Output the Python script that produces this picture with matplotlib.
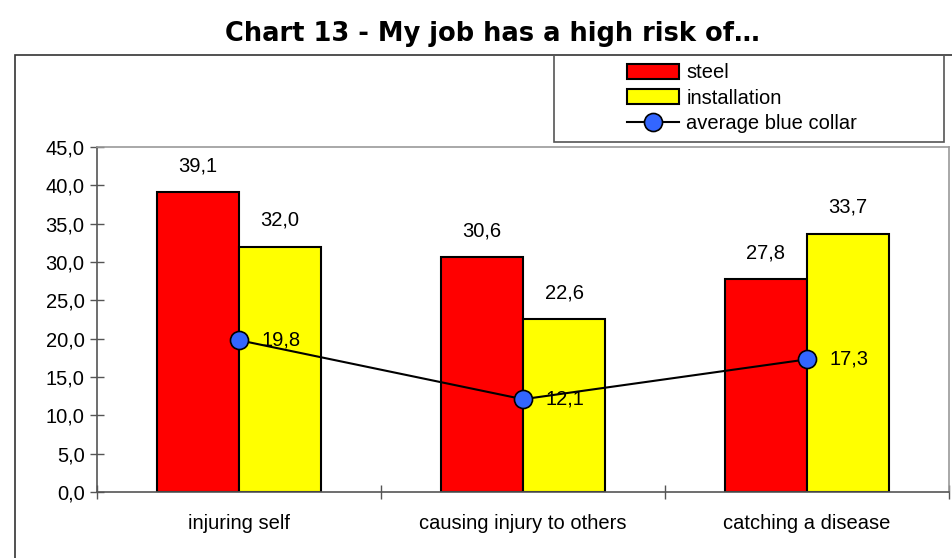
import matplotlib
matplotlib.use("Agg")
import matplotlib.pyplot as plt
from matplotlib.patches import Rectangle
import numpy as np

categories = ["injuring self", "causing injury to others", "catching a disease"]
steel = [39.1, 30.6, 27.8]
installation = [32.0, 22.6, 33.7]
average_blue_collar = [19.8, 12.1, 17.3]
yticks = [0, 5, 10, 15, 20, 25, 30, 35, 40, 45]

plt.rcParams['font.family'] = ['Liberation Sans', 'DejaVu Sans']

W, H = 952, 558
fig = plt.figure(figsize=(W/100, H/100), dpi=100)
ax = fig.add_axes([97/W, 1-492/H, (949-97)/W, (492-147)/H])

x = np.arange(len(categories))
bw = 0.29
fs = 14.5

ax.bar(x - bw/2, steel, bw, color='#FF0000', edgecolor='black', linewidth=1.5, label='steel', zorder=2)
ax.bar(x + bw/2, installation, bw, color='#FFFF00', edgecolor='black', linewidth=1.5, label='installation', zorder=2)
ax.plot(x, average_blue_collar, color='black', linewidth=1.5, marker='o', markersize=13,
        markerfacecolor='#3366FF', markeredgecolor='black', markeredgewidth=1.2,
        label='average blue collar', zorder=3)

def fmt(v):
    return f"{v:.1f}".replace('.', ',')

for i in range(len(categories)):
    ax.annotate(fmt(steel[i]), (x[i]-bw/2, steel[i]), xytext=(0, 12), textcoords='offset points',
                ha='center', va='bottom', fontsize=fs)
    ax.annotate(fmt(installation[i]), (x[i]+bw/2, installation[i]), xytext=(0, 12), textcoords='offset points',
                ha='center', va='bottom', fontsize=fs)
    ax.annotate(fmt(average_blue_collar[i]), (x[i], average_blue_collar[i]), xytext=(16, 0),
                textcoords='offset points', ha='left', va='center', fontsize=fs, zorder=4)

ax.set_xlim(-0.5, len(categories)-0.5)
ax.set_ylim(0, 45)
ax.set_yticks(yticks)
ax.set_yticklabels([fmt(v) for v in yticks], fontsize=fs)
ax.set_xticks(np.arange(len(categories)+1) - 0.5)
ax.set_xticklabels([])
ax.set_xticks(x, minor=True)
ax.set_xticklabels(categories, minor=True, fontsize=fs)
ax.tick_params(axis='x', which='minor', length=0, pad=16)
ax.tick_params(axis='x', which='major', direction='inout', length=10, width=1, color='#555555')
ax.tick_params(axis='y', direction='inout', length=10, width=1, color='#555555', pad=4)

for s in ['left', 'bottom']:
    ax.spines[s].set_color('#555555')
    ax.spines[s].set_linewidth(1.2)
for s in ['top', 'right']:
    ax.spines[s].set_color('#999999')
    ax.spines[s].set_linewidth(1.2)

# outer chart frame
fig.patches.append(Rectangle((15/W, -0.05), 1.0, 1-55/H+0.05, transform=fig.transFigure,
                             fill=False, edgecolor='#333333', linewidth=1.2))
# legend box
fig.patches.append(Rectangle((554/W, 1-142/H), (944-554)/W, (142-55)/H, transform=fig.transFigure,
                             fill=False, edgecolor='#555555', linewidth=1.2))

handles, labels = ax.get_legend_handles_labels()
order = [labels.index('steel'), labels.index('installation'), labels.index('average blue collar')]
fig.legend([handles[i] for i in order], [labels[i] for i in order], loc='upper left',
           bbox_to_anchor=(627/W, 1-63.5/H),
           frameon=False, fontsize=fs, borderpad=0, borderaxespad=0,
           handlelength=2.6, handletextpad=0.35, labelspacing=0.3)

fig.text(492/W, 1-34/H, "Chart 13 - My job has a high risk of…", ha='center', va='center',
         fontsize=18.5, fontweight='bold', family=['DejaVu Sans'])

fig.savefig("out.png", dpi=100)
